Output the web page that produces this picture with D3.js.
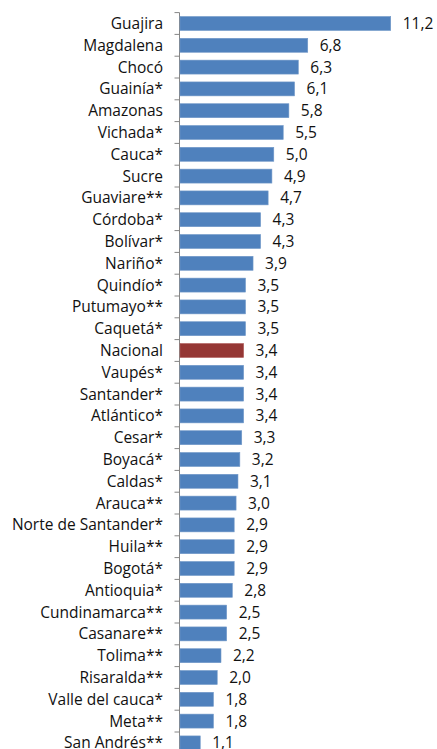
<!DOCTYPE html>
<html>
<head>
<meta charset="utf-8">
<script src="https://cdn.jsdelivr.net/npm/d3@7"></script>
<style>
  body { margin: 0; background: #fff; }
  svg text { font-family: "Open Sans", sans-serif; fill: #111; }
</style>
</head>
<body>
<svg id="chart"></svg>
<script>
//Chart data
const departments = ["Guajira","Magdalena","Chocó","Guainía*","Amazonas","Vichada*","Cauca*","Sucre",
  "Guaviare**","Córdoba*","Bolívar*","Nariño*","Quindío*","Putumayo**","Caquetá*","Nacional",
  "Vaupés*","Santander*","Atlántico*","Cesar*","Boyacá*","Caldas*","Arauca**","Norte de Santander*",
  "Huila**","Bogotá*","Antioquia*","Cundinamarca**","Casanare**","Tolima**","Risaralda**",
  "Valle del cauca*","Meta**","San Andrés**"];
const rates = [11.2,6.8,6.3,6.1,5.8,5.5,5.0,4.9,4.7,4.3,4.3,3.9,3.5,3.5,3.5,3.4,
  3.4,3.4,3.4,3.3,3.2,3.1,3.0,2.9,2.9,2.9,2.8,2.5,2.5,2.2,2.0,1.8,1.8,1.1];
const highlight = "Nacional";

const width = 437;
const height = 749;
const x0 = 179.5;

const svg = d3.select("#chart")
  .attr("width", width)
  .attr("height", height);

//Scales
const x = d3.scaleLinear().domain([0, 11.2]).range([x0, 390.7]);
const y = d3.scaleBand()
  .domain(departments)
  .range([12.6, 12.6 + 21.8 * departments.length])
  .paddingInner(0.36)
  .paddingOuter(0.18);

const step = y.step();
const top0 = 12.6;

//Axis line and ticks at category boundaries
svg.append("line")
  .attr("x1", x0).attr("x2", x0)
  .attr("y1", top0).attr("y2", height)
  .attr("stroke", "#868686");

svg.selectAll(".tick")
  .data(d3.range(departments.length + 1))
  .enter()
  .append("line")
  .attr("x1", x0 - 5).attr("x2", x0)
  .attr("y1", (d) => top0 + d * step)
  .attr("y2", (d) => top0 + d * step)
  .attr("stroke", "#868686");

//Bars
svg.selectAll(".bar")
  .data(departments)
  .enter()
  .append("rect")
  .attr("x", x0 + 0.5)
  .attr("y", (d) => y(d))
  .attr("width", (d, i) => x(rates[i]) - x0 - 0.5)
  .attr("height", y.bandwidth())
  .attr("fill", (d) => d === highlight ? "#953735" : "#4f81bd")
  .attr("stroke", (d) => d === highlight ? "#b05c5a" : "#7198c8")
  .attr("stroke-width", 0.6);

//Category labels
svg.selectAll(".label")
  .data(departments)
  .enter()
  .append("text")
  .attr("x", 163)
  .attr("y", (d) => y(d) + y.bandwidth() / 2)
  .attr("dy", "0.35em")
  .attr("text-anchor", "end")
  .attr("font-size", "15.5px")
  .text((d) => d);

//Value labels
const fmt = (v) => v.toFixed(1).replace(".", ",");
svg.selectAll(".value")
  .data(departments)
  .enter()
  .append("text")
  .attr("x", (d, i) => x(rates[i]) + 12)
  .attr("y", (d) => y(d) + y.bandwidth() / 2)
  .attr("dy", "0.35em")
  .attr("font-size", "15.5px")
  .text((d, i) => fmt(rates[i]));
</script>
</body>
</html>
